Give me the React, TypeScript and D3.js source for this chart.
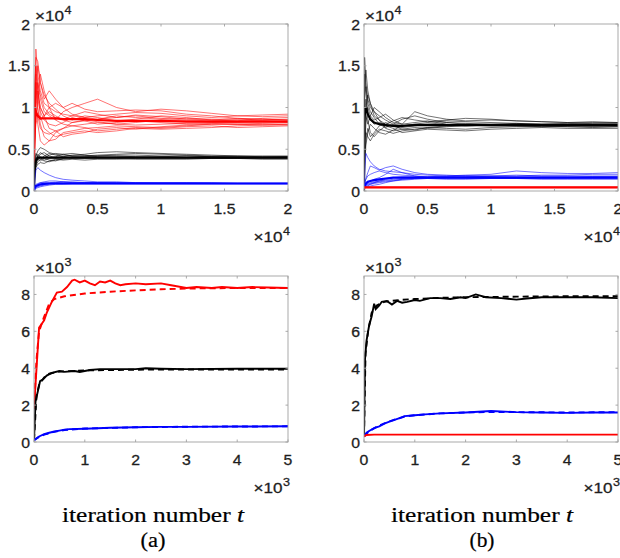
import React from "react";
import * as d3 from "d3";

// top row: t in units of 1e4, values in units of 1e4
const TOP_T = [0, 0.005, 0.015, 0.03, 0.05, 0.08, 0.12, 0.17, 0.23, 0.3, 0.4, 0.5, 0.65, 0.8, 1.0, 1.2, 1.4, 1.6, 1.8, 2.0];

// (a) runs
const A_RED_RUNS = [
  [0.3, 1.2, 1.7, 1.4, 1.2, 1.05, 1.0, 0.95, 0.92, 0.9, 0.88, 0.9, 0.92, 0.94, 0.93, 0.9, 0.88, 0.9, 0.89, 0.9],
  [0.3, 0.9, 1.6, 1.55, 1.3, 1.1, 1.2, 1.1, 1.0, 1.05, 0.98, 0.95, 0.96, 0.97, 0.96, 0.92, 0.9, 0.87, 0.86, 0.85],
  [0.2, 0.7, 1.5, 1.2, 0.9, 0.75, 0.7, 0.65, 0.68, 0.7, 0.72, 0.7, 0.72, 0.75, 0.74, 0.75, 0.76, 0.78, 0.79, 0.8],
  [0.3, 0.5, 0.9, 1.1, 1.4, 1.2, 1.0, 0.85, 0.8, 0.78, 0.8, 0.82, 0.8, 0.79, 0.8, 0.81, 0.82, 0.83, 0.84, 0.84],
  [0.4, 1.0, 1.3, 1.0, 0.8, 0.65, 0.6, 0.62, 0.7, 0.72, 0.75, 0.76, 0.78, 0.77, 0.76, 0.78, 0.8, 0.8, 0.81, 0.82],
  [0.3, 0.8, 1.1, 1.3, 1.1, 0.95, 0.9, 0.85, 0.95, 1.0, 1.05, 1.1, 1.0, 0.95, 0.98, 0.96, 0.93, 0.9, 0.91, 0.92],
  [0.2, 0.6, 1.0, 0.8, 0.6, 0.55, 0.6, 0.7, 0.75, 0.82, 0.85, 0.83, 0.8, 0.82, 0.85, 0.84, 0.83, 0.82, 0.83, 0.83],
  [0.3, 1.1, 1.4, 1.2, 1.0, 0.9, 1.0, 1.05, 1.0, 0.92, 0.88, 0.86, 0.9, 0.88, 0.86, 0.87, 0.86, 0.86, 0.85, 0.86],
  [0.4, 0.6, 0.8, 0.9, 0.75, 0.7, 0.68, 0.72, 0.65, 0.68, 0.7, 0.74, 0.76, 0.74, 0.77, 0.79, 0.8, 0.8, 0.79, 0.79],
  [0.3, 0.9, 1.2, 1.5, 1.3, 1.15, 1.05, 0.98, 0.9, 0.85, 0.9, 0.88, 0.84, 0.86, 0.9, 0.88, 0.85, 0.84, 0.87, 0.88],
  [0.2, 0.7, 1.3, 1.1, 0.95, 0.85, 0.8, 0.78, 0.82, 0.88, 0.84, 0.8, 0.82, 0.84, 0.82, 0.8, 0.81, 0.8, 0.8, 0.8],
  [0.4, 1.3, 1.5, 1.3, 1.15, 1.0, 0.92, 0.88, 0.86, 0.9, 0.95, 0.92, 0.88, 0.91, 0.89, 0.86, 0.85, 0.87, 0.86, 0.85],
  [0.3, 0.5, 1.0, 1.2, 1.0, 0.9, 0.75, 0.72, 0.75, 0.78, 0.76, 0.72, 0.74, 0.76, 0.75, 0.77, 0.78, 0.76, 0.77, 0.78],
  [0.3, 0.8, 1.2, 0.95, 0.85, 0.9, 0.95, 0.9, 0.85, 0.82, 0.84, 0.86, 0.88, 0.9, 0.87, 0.85, 0.84, 0.85, 0.84, 0.83],
];
const A_RED_MEAN = [0.3, 0.8, 0.95, 0.9, 0.87, 0.87, 0.87, 0.87, 0.86, 0.86, 0.86, 0.85, 0.84, 0.84, 0.84, 0.83, 0.83, 0.83, 0.83, 0.83];

const A_BLACK_RUNS = [
  [0, 0.3, 0.42, 0.48, 0.52, 0.5, 0.46, 0.44, 0.43, 0.42, 0.42, 0.43, 0.44, 0.45, 0.44, 0.43, 0.42, 0.42, 0.42, 0.42],
  [0, 0.2, 0.3, 0.35, 0.38, 0.36, 0.35, 0.37, 0.38, 0.39, 0.4, 0.4, 0.41, 0.41, 0.4, 0.4, 0.4, 0.4, 0.4, 0.4],
  [0, 0.25, 0.35, 0.4, 0.44, 0.46, 0.42, 0.4, 0.41, 0.43, 0.44, 0.46, 0.47, 0.46, 0.45, 0.44, 0.43, 0.42, 0.41, 0.41],
  [0, 0.15, 0.28, 0.32, 0.34, 0.33, 0.36, 0.38, 0.37, 0.38, 0.37, 0.38, 0.38, 0.39, 0.39, 0.39, 0.39, 0.39, 0.39, 0.39],
  [0, 0.35, 0.45, 0.4, 0.38, 0.42, 0.45, 0.43, 0.41, 0.4, 0.41, 0.42, 0.42, 0.41, 0.41, 0.4, 0.41, 0.41, 0.4, 0.4],
  [0, 0.28, 0.38, 0.44, 0.4, 0.37, 0.39, 0.41, 0.44, 0.45, 0.43, 0.41, 0.4, 0.4, 0.41, 0.42, 0.41, 0.4, 0.4, 0.41],
  [0, 0.22, 0.32, 0.37, 0.41, 0.39, 0.37, 0.36, 0.39, 0.41, 0.4, 0.39, 0.39, 0.38, 0.38, 0.38, 0.39, 0.39, 0.38, 0.38],
  [0, 0.3, 0.4, 0.38, 0.36, 0.4, 0.43, 0.45, 0.44, 0.42, 0.42, 0.42, 0.43, 0.43, 0.42, 0.42, 0.41, 0.41, 0.41, 0.41],
  [0, 0.18, 0.35, 0.42, 0.46, 0.43, 0.4, 0.39, 0.4, 0.4, 0.39, 0.4, 0.4, 0.4, 0.4, 0.4, 0.4, 0.4, 0.4, 0.4],
];
const A_BLACK_MEAN = [0, 0.25, 0.36, 0.4, 0.4, 0.4, 0.4, 0.4, 0.4, 0.4, 0.4, 0.4, 0.4, 0.4, 0.4, 0.4, 0.4, 0.4, 0.4, 0.4];

const A_BLUE_RUNS = [
  [0, 0.1, 0.25, 0.28, 0.25, 0.22, 0.19, 0.16, 0.14, 0.13, 0.12, 0.11, 0.11, 0.1, 0.1, 0.1, 0.1, 0.09, 0.09, 0.09],
  [0, 0.03, 0.05, 0.06, 0.07, 0.08, 0.09, 0.1, 0.11, 0.11, 0.1, 0.1, 0.09, 0.09, 0.09, 0.09, 0.09, 0.09, 0.09, 0.09],
  [0, 0.02, 0.04, 0.05, 0.06, 0.07, 0.08, 0.09, 0.09, 0.09, 0.09, 0.09, 0.09, 0.09, 0.09, 0.09, 0.09, 0.09, 0.09, 0.09],
  [0, 0.04, 0.06, 0.08, 0.1, 0.11, 0.12, 0.12, 0.11, 0.1, 0.1, 0.1, 0.1, 0.1, 0.095, 0.095, 0.09, 0.09, 0.09, 0.09],
  [0, 0.02, 0.03, 0.04, 0.05, 0.06, 0.07, 0.08, 0.08, 0.085, 0.085, 0.085, 0.085, 0.085, 0.085, 0.085, 0.085, 0.085, 0.085, 0.085],
  [0, 0.05, 0.08, 0.09, 0.1, 0.1, 0.1, 0.105, 0.105, 0.1, 0.1, 0.1, 0.1, 0.095, 0.095, 0.095, 0.095, 0.095, 0.095, 0.095],
];
const A_BLUE_MEAN = [0, 0.04, 0.06, 0.07, 0.08, 0.085, 0.09, 0.09, 0.09, 0.09, 0.09, 0.09, 0.09, 0.09, 0.09, 0.09, 0.09, 0.09, 0.09, 0.09];

// (b) runs
const B_BLACK_RUNS = [
  [0, 1.6, 1.3, 1.1, 1.0, 0.95, 0.9, 0.85, 0.8, 0.78, 0.8, 0.82, 0.84, 0.83, 0.82, 0.81, 0.8, 0.8, 0.81, 0.81],
  [0, 1.2, 1.45, 1.2, 1.05, 0.9, 0.85, 0.75, 0.72, 0.74, 0.76, 0.75, 0.77, 0.78, 0.79, 0.78, 0.77, 0.78, 0.78, 0.78],
  [0, 0.5, 0.8, 1.0, 0.9, 0.85, 0.88, 0.92, 0.85, 0.8, 0.95, 0.9, 0.86, 0.84, 0.85, 0.84, 0.83, 0.82, 0.83, 0.82],
  [0, 0.9, 1.1, 0.85, 0.7, 0.65, 0.72, 0.78, 0.75, 0.7, 0.72, 0.74, 0.73, 0.72, 0.74, 0.75, 0.76, 0.75, 0.75, 0.75],
  [0, 0.3, 0.55, 0.7, 0.8, 0.75, 0.7, 0.68, 0.73, 0.78, 0.8, 0.8, 0.82, 0.8, 0.79, 0.8, 0.79, 0.79, 0.78, 0.79],
  [0, 1.4, 1.2, 0.95, 0.85, 0.8, 0.82, 0.8, 0.77, 0.76, 0.78, 0.8, 0.79, 0.8, 0.8, 0.81, 0.8, 0.8, 0.8, 0.8],
  [0, 0.8, 1.0, 1.15, 1.05, 0.95, 0.85, 0.8, 0.84, 0.88, 0.85, 0.83, 0.85, 0.87, 0.86, 0.84, 0.83, 0.82, 0.82, 0.82],
  [0, 0.6, 0.7, 0.65, 0.6, 0.68, 0.74, 0.72, 0.69, 0.72, 0.74, 0.76, 0.75, 0.74, 0.76, 0.77, 0.77, 0.77, 0.76, 0.77],
  [0, 1.0, 0.9, 0.8, 0.9, 1.0, 0.95, 0.88, 0.82, 0.8, 0.82, 0.84, 0.8, 0.78, 0.79, 0.8, 0.79, 0.79, 0.79, 0.79],
  [0, 0.4, 0.6, 0.75, 0.65, 0.7, 0.78, 0.82, 0.78, 0.74, 0.73, 0.76, 0.78, 0.79, 0.78, 0.78, 0.78, 0.77, 0.77, 0.77],
  [0, 1.1, 1.25, 1.05, 0.95, 0.88, 0.8, 0.76, 0.8, 0.86, 0.9, 0.86, 0.82, 0.81, 0.8, 0.8, 0.8, 0.81, 0.8, 0.8],
];
const B_BLACK_MEAN = [0, 0.9, 1.0, 0.92, 0.86, 0.82, 0.8, 0.79, 0.78, 0.78, 0.79, 0.79, 0.79, 0.79, 0.79, 0.79, 0.79, 0.79, 0.79, 0.79];

const B_BLUE_RUNS = [
  [0.03, 0.2, 0.45, 0.4, 0.35, 0.3, 0.26, 0.24, 0.23, 0.22, 0.2, 0.19, 0.18, 0.18, 0.18, 0.19, 0.18, 0.18, 0.18, 0.18],
  [0.03, 0.08, 0.15, 0.22, 0.3, 0.28, 0.25, 0.28, 0.3, 0.26, 0.22, 0.2, 0.19, 0.18, 0.17, 0.17, 0.17, 0.17, 0.17, 0.17],
  [0.03, 0.05, 0.07, 0.09, 0.1, 0.11, 0.12, 0.13, 0.14, 0.15, 0.16, 0.17, 0.18, 0.19, 0.2, 0.24, 0.22, 0.21, 0.21, 0.22],
  [0.03, 0.04, 0.05, 0.06, 0.08, 0.09, 0.1, 0.11, 0.12, 0.13, 0.14, 0.15, 0.15, 0.16, 0.16, 0.16, 0.16, 0.16, 0.16, 0.16],
  [0.03, 0.06, 0.08, 0.1, 0.12, 0.14, 0.16, 0.2, 0.26, 0.22, 0.18, 0.16, 0.16, 0.15, 0.15, 0.15, 0.15, 0.15, 0.15, 0.15],
  [0.03, 0.05, 0.06, 0.07, 0.08, 0.1, 0.12, 0.14, 0.16, 0.17, 0.17, 0.16, 0.16, 0.17, 0.17, 0.16, 0.16, 0.16, 0.17, 0.17],
  [0.03, 0.04, 0.05, 0.05, 0.06, 0.07, 0.08, 0.1, 0.12, 0.14, 0.15, 0.15, 0.14, 0.14, 0.15, 0.15, 0.14, 0.14, 0.14, 0.14],
  [0.03, 0.1, 0.14, 0.18, 0.2, 0.22, 0.24, 0.22, 0.2, 0.19, 0.18, 0.17, 0.17, 0.16, 0.16, 0.16, 0.16, 0.16, 0.16, 0.16],
  [0.03, 0.05, 0.07, 0.08, 0.09, 0.1, 0.11, 0.12, 0.13, 0.14, 0.15, 0.16, 0.17, 0.18, 0.18, 0.18, 0.19, 0.19, 0.2, 0.2],
];
const B_BLUE_MEAN = [0.03, 0.06, 0.09, 0.11, 0.12, 0.13, 0.14, 0.15, 0.16, 0.16, 0.16, 0.16, 0.16, 0.16, 0.16, 0.16, 0.16, 0.16, 0.16, 0.16];

const B_RED_RUNS = [
  [0.03, 0.04, 0.04, 0.04, 0.04, 0.04, 0.04, 0.04, 0.04, 0.04, 0.04, 0.04, 0.04, 0.04, 0.04, 0.04, 0.04, 0.04, 0.04, 0.04],
  [0.03, 0.042, 0.043, 0.043, 0.043, 0.043, 0.043, 0.043, 0.043, 0.043, 0.043, 0.043, 0.043, 0.043, 0.043, 0.043, 0.043, 0.043, 0.043, 0.043],
  [0.03, 0.045, 0.046, 0.046, 0.046, 0.046, 0.046, 0.046, 0.046, 0.046, 0.046, 0.046, 0.046, 0.046, 0.046, 0.046, 0.046, 0.046, 0.046, 0.046],
];
const B_RED_MEAN = [0.03, 0.043, 0.043, 0.043, 0.043, 0.043, 0.043, 0.043, 0.043, 0.043, 0.043, 0.043, 0.043, 0.043, 0.043, 0.043, 0.043, 0.043, 0.043, 0.043];

// bottom row: [t in 1e3, value in 1e3]
const A_RED_SOLID = [[0, 1.8], [0.1, 6.2], [0.15, 6.4], [0.2, 6.6], [0.25, 7.0], [0.35, 7.6], [0.45, 8.1], [0.55, 8.15], [0.65, 8.4], [0.75, 8.75], [0.8, 8.8], [0.9, 8.65], [1.0, 8.75], [1.1, 8.6], [1.2, 8.5], [1.3, 8.7], [1.4, 8.65], [1.5, 8.75], [1.6, 8.6], [1.7, 8.5], [1.8, 8.55], [2.0, 8.6], [2.2, 8.55], [2.5, 8.6], [2.7, 8.5], [3.0, 8.35], [3.2, 8.4], [3.5, 8.35], [3.7, 8.4], [4.0, 8.35], [4.3, 8.4], [4.6, 8.38], [5.0, 8.35]];
const A_RED_DASHED = [[0, 1.8], [0.05, 4.5], [0.1, 6.0], [0.2, 6.8], [0.3, 7.5], [0.4, 7.75], [0.6, 7.9], [1.0, 8.05], [1.5, 8.15], [2.0, 8.22], [2.5, 8.28], [3.0, 8.32], [4.0, 8.35], [5.0, 8.35]];
const A_BLACK_SOLID = [[0, 0.1], [0.03, 2.2], [0.08, 2.8], [0.12, 3.3], [0.18, 3.4], [0.25, 3.6], [0.35, 3.75], [0.5, 3.85], [0.6, 3.8], [0.8, 3.85], [0.9, 3.8], [1.1, 3.9], [1.3, 3.95], [1.5, 3.95], [2.0, 3.95], [2.2, 4.0], [2.5, 3.97], [3.0, 3.95], [4.0, 3.97], [5.0, 3.97]];
const A_BLACK_DASHED = [[0, 0.1], [0.05, 2.5], [0.1, 3.1], [0.2, 3.5], [0.3, 3.7], [0.5, 3.82], [1.0, 3.88], [2.0, 3.92], [3.0, 3.93], [5.0, 3.93]];
const A_BLUE_SOLID = [[0, 0.1], [0.1, 0.3], [0.2, 0.42], [0.3, 0.5], [0.4, 0.57], [0.5, 0.62], [0.6, 0.67], [0.7, 0.7], [1.0, 0.72], [1.5, 0.77], [2.0, 0.8], [2.5, 0.82], [3.0, 0.82], [4.0, 0.84], [5.0, 0.85]];
const A_BLUE_DASHED = [[0, 0.1], [0.1, 0.28], [0.2, 0.4], [0.4, 0.55], [0.6, 0.65], [1.0, 0.73], [2.0, 0.8], [3.0, 0.83], [5.0, 0.85]];

const B_BLACK_SOLID = [[0, 0.3], [0.02, 4.5], [0.05, 5.5], [0.1, 6.3], [0.15, 6.8], [0.2, 7.5], [0.23, 7.2], [0.3, 7.4], [0.35, 7.6], [0.45, 7.65], [0.55, 7.45], [0.65, 7.65], [0.75, 7.55], [0.85, 7.6], [1.0, 7.7], [1.1, 7.65], [1.3, 7.8], [1.5, 7.8], [1.7, 7.75], [1.9, 7.85], [2.0, 7.8], [2.2, 8.0], [2.4, 7.85], [2.7, 7.8], [3.0, 7.72], [3.2, 7.78], [3.5, 7.85], [4.0, 7.85], [4.5, 7.85], [5.0, 7.8]];
const B_BLACK_DASHED = [[0, 0.3], [0.03, 4.8], [0.08, 6.0], [0.15, 7.0], [0.25, 7.4], [0.4, 7.6], [0.7, 7.7], [1.0, 7.75], [1.5, 7.82], [2.0, 7.85], [3.0, 7.88], [4.0, 7.9], [5.0, 7.9]];
const B_BLUE_SOLID = [[0, 0.3], [0.05, 0.5], [0.1, 0.6], [0.2, 0.75], [0.3, 0.85], [0.4, 1.0], [0.5, 1.1], [0.6, 1.2], [0.7, 1.3], [0.8, 1.4], [1.0, 1.45], [1.2, 1.5], [1.5, 1.55], [2.0, 1.6], [2.5, 1.68], [3.0, 1.62], [3.5, 1.6], [4.0, 1.58], [4.5, 1.6], [5.0, 1.6]];
const B_BLUE_DASHED = [[0, 0.3], [0.1, 0.58], [0.3, 0.9], [0.5, 1.12], [0.8, 1.38], [1.0, 1.45], [1.5, 1.55], [2.0, 1.6], [2.5, 1.63], [3.0, 1.62], [4.0, 1.6], [5.0, 1.62]];
const B_RED_SOLID = [[0, 0.3], [0.05, 0.38], [0.2, 0.4], [2.5, 0.4], [5.0, 0.4]];

const TOP_TICKS = [0, 0.5, 1, 1.5, 2];
const BOT_X_TICKS = [0, 1, 2, 3, 4, 5];
const BOT_Y_TICKS = [0, 2, 4, 6, 8];

const RED = "#ff0000", BLACK = "#000000", BLUE = "#0000ff";
const AXIS = "#a0a0a0";
const LABEL = "#1e1e1e";
const SANS = "'Liberation Sans', Arial, Helvetica, sans-serif";
const SERIF = "'Liberation Serif', 'Times New Roman', serif";
const TICK = 2.5;

const COLS = [34, 364];
const W = 254;
const TOP_Y = 24, TOP_H = 167;
const BOT_Y = 276, BOT_H = 166;

// rendered widths in px per em-unit of Arial metrics (the figure is stretched sideways)
const TICK_PX = 15.8;
const unitWidth = (s: string) => Array.from(s).reduce((a, c) => a + (c === "." ? 0.278 : c === "×" ? 0.584 : 0.556), 0);

function Txt({ x, y, anchor = "start", size = 15.5, len, family = SANS, fill = LABEL, weight = 0.3, children }: any) {
  return (
    <text x={x} y={y} textAnchor={anchor} fontSize={size} fontFamily={family} fill={fill}
      stroke={fill} strokeWidth={weight} textLength={len} lengthAdjust={len ? "spacingAndGlyphs" : undefined}>
      {children}
    </text>
  );
}

function Exp({ x, y, exp, anchor }: any) {
  // "×10" plus a raised exponent, placed from its left or right edge
  const base = 29, sup = 7;
  const left = anchor === "end" ? x - base - sup - 0.5 : x;
  return (
    <g>
      <Txt x={left} y={y} size={15.5} len={base}>×10</Txt>
      <Txt x={left + base + 0.5} y={y - 7.5} size={11.5} len={sup}>{exp}</Txt>
    </g>
  );
}

function Axes({ x, y, xTicks, yTicks, exp }: any) {
  const [x0, x1] = x.range();
  const [y0, y1] = y.range();
  return (
    <g>
      <rect x={x0} y={y1} width={x1 - x0} height={y0 - y1} fill="none" stroke={AXIS} strokeWidth={0.9} />
      {xTicks.map((t: number) => (
        <g key={"x" + t} stroke={AXIS} strokeWidth={0.9}>
          <line x1={x(t)} x2={x(t)} y1={y0} y2={y0 - TICK} />
          <line x1={x(t)} x2={x(t)} y1={y1} y2={y1 + TICK} />
        </g>
      ))}
      {yTicks.map((t: number) => (
        <g key={"y" + t} stroke={AXIS} strokeWidth={0.9}>
          <line x1={x0} x2={x0 + TICK} y1={y(t)} y2={y(t)} />
          <line x1={x1} x2={x1 - TICK} y1={y(t)} y2={y(t)} />
        </g>
      ))}
      {xTicks.map((t: number) => (
        <Txt key={"xl" + t} x={x(t)} y={y0 + 23} anchor="middle" len={unitWidth(String(t)) * TICK_PX}>{String(t)}</Txt>
      ))}
      {yTicks.map((t: number) => (
        <Txt key={"yl" + t} x={x0 - 4} y={y(t) + 5.5} anchor="end" len={unitWidth(String(t)) * TICK_PX}>{String(t)}</Txt>
      ))}
      <Exp x={x0 + 1} y={y1 - 3} exp={exp} />
      <Exp x={x1 + 2} y={y0 + 51} exp={exp} anchor="end" />
    </g>
  );
}

function TopPanel({ left, groups, clip }: any) {
  const x = d3.scaleLinear().domain([0, 2]).range([left, left + W]);
  const y = d3.scaleLinear().domain([0, 2]).range([TOP_Y + TOP_H, TOP_Y]);
  const line = d3.line<number>().x((_, i) => x(TOP_T[i])).y(v => y(v));
  return (
    <g>
      <g clipPath={`url(#${clip})`}>
        {groups.map((g: any, gi: number) => (
          <g key={gi} fill="none" stroke={g.color}>
            {g.runs.map((r: number[], i: number) => (
              <path key={i} d={line(r) as string} strokeWidth={0.65} strokeOpacity={0.85} />
            ))}
            {g.mean && <path d={line(g.mean) as string} strokeWidth={2.2} />}
          </g>
        ))}
      </g>
      <Axes x={x} y={y} xTicks={TOP_TICKS} yTicks={TOP_TICKS} exp="4" />
    </g>
  );
}

function BottomPanel({ left, series, clip }: any) {
  const x = d3.scaleLinear().domain([0, 5]).range([left, left + W]);
  const y = d3.scaleLinear().domain([0, 9]).range([BOT_Y + BOT_H, BOT_Y]);
  const line = d3.line<number[]>().x(d => x(d[0])).y(d => y(d[1]));
  return (
    <g>
      <g clipPath={`url(#${clip})`} fill="none">
        {series.map((s: any, i: number) => (
          <path key={i} d={line(s.data) as string} stroke={s.color} strokeWidth={1.9}
            strokeDasharray={s.dashed ? "6,4" : undefined} />
        ))}
      </g>
      <Axes x={x} y={y} xTicks={BOT_X_TICKS} yTicks={BOT_Y_TICKS} exp="3" />
    </g>
  );
}

export default function App() {
  return (
    <svg width={620} height={558} style={{ position: "absolute", left: 0, top: 0, background: "#fff" }}>
      <defs>
        {COLS.map((c, i) => (
          <React.Fragment key={i}>
            <clipPath id={`ct${i}`}><rect x={c} y={TOP_Y} width={W} height={TOP_H} /></clipPath>
            <clipPath id={`cb${i}`}><rect x={c} y={BOT_Y} width={W} height={BOT_H} /></clipPath>
          </React.Fragment>
        ))}
      </defs>
      <rect width={620} height={558} fill="#fff" />
      <TopPanel left={COLS[0]} clip="ct0" groups={[
        { color: RED, runs: A_RED_RUNS, mean: A_RED_MEAN },
        { color: BLACK, runs: A_BLACK_RUNS, mean: A_BLACK_MEAN },
        { color: BLUE, runs: A_BLUE_RUNS, mean: A_BLUE_MEAN },
      ]} />
      <TopPanel left={COLS[1]} clip="ct1" groups={[
        { color: BLACK, runs: B_BLACK_RUNS, mean: B_BLACK_MEAN },
        { color: BLUE, runs: B_BLUE_RUNS, mean: B_BLUE_MEAN },
        { color: RED, runs: B_RED_RUNS, mean: B_RED_MEAN },
      ]} />
      <BottomPanel left={COLS[0]} clip="cb0" series={[
        { color: RED, data: A_RED_DASHED, dashed: true },
        { color: RED, data: A_RED_SOLID },
        { color: BLACK, data: A_BLACK_DASHED, dashed: true },
        { color: BLACK, data: A_BLACK_SOLID },
        { color: BLUE, data: A_BLUE_DASHED, dashed: true },
        { color: BLUE, data: A_BLUE_SOLID },
      ]} />
      <BottomPanel left={COLS[1]} clip="cb1" series={[
        { color: BLACK, data: B_BLACK_DASHED, dashed: true },
        { color: BLACK, data: B_BLACK_SOLID },
        { color: BLUE, data: B_BLUE_DASHED, dashed: true },
        { color: BLUE, data: B_BLUE_SOLID },
        { color: RED, data: B_RED_SOLID },
      ]} />
      {[["(a)", 153], ["(b)", 482]].map(([lab, cx]) => (
        <g key={lab as string}>
          <Txt x={cx} y={522} anchor="middle" size={20} len={182} family={SERIF} fill="#000" weight={0.2}>
            iteration number <tspan fontStyle="italic">t</tspan>
          </Txt>
          <Txt x={cx} y={547} anchor="middle" size={20} len={25} family={SERIF} fill="#000" weight={0.2}>{lab}</Txt>
        </g>
      ))}
    </svg>
  );
}
